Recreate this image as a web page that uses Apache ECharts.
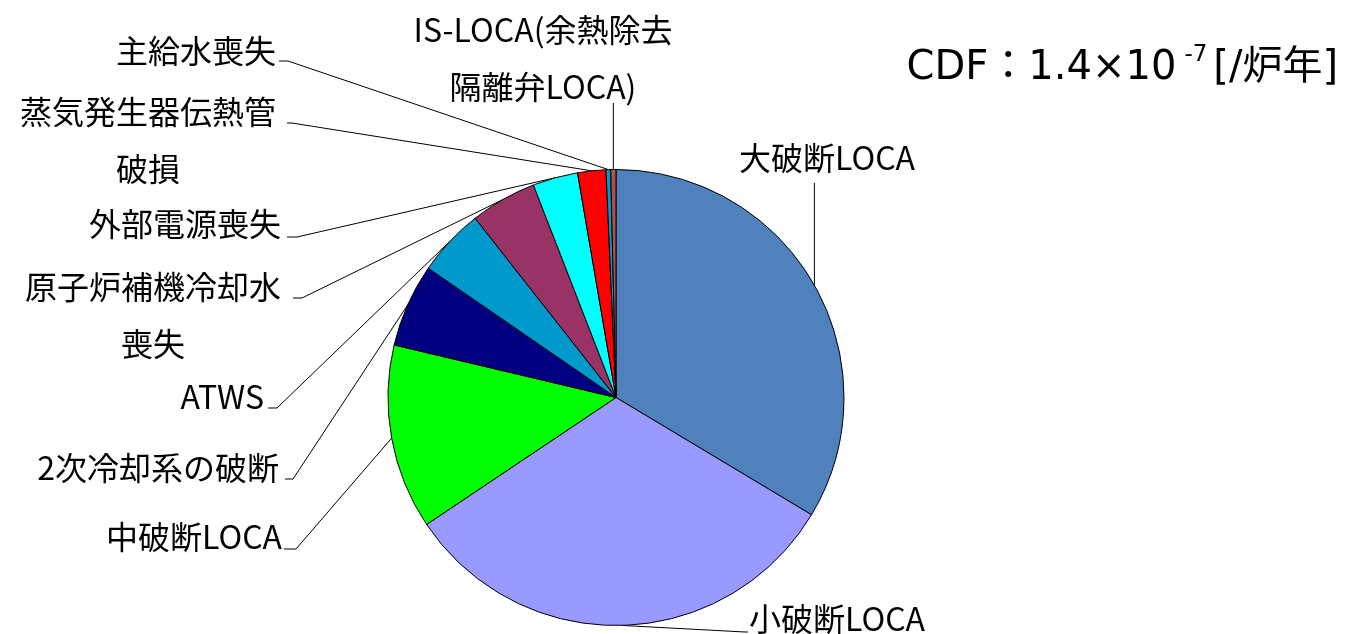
<!DOCTYPE html>
<html>
<head>
<meta charset="utf-8">
<script src="https://cdn.jsdelivr.net/npm/echarts@6/dist/echarts.min.js"></script>
<style>
html,body{margin:0;padding:0;background:#ffffff;}
#chart{width:1351px;height:634px;}
</style>
</head>
<body>
<div id="chart"></div>
<script>
// ---- data ----
const categories = [
  '大破断LOCA',
  '小破断LOCA',
  '中破断LOCA',
  '2次冷却系の破断',
  'ATWS',
  '原子炉補機冷却水\n喪失',
  '外部電源喪失',
  '蒸気発生器伝熱管\n破損',
  '主給水喪失',
  'IS-LOCA(余熱除去\n隔離弁LOCA)'
];
const shares = [33.6, 32.0, 13.1, 5.9, 4.8, 4.7, 3.2, 2.0, 0.33, 0.37];
const sliceColors = ['#4F81BD', '#9999FF', '#00FF00', '#000080', '#0099CC',
                     '#993366', '#00FFFF', '#FF0000', '#0099CC', '#B0504D'];
const cdfLabel = { head: 'CDF：1.4×10', exp: '-7', unit: '[/炉年]' };

// ---- layout (label placement only) ----
const pieCenter = [616, 397.5];
const pieRadius = 228;
// anchor of each label, text alignment, and where the leader line ends
const labelPlace = [
  { x: 827, y: 158, align: 'center', bend: 'vertical', endY: 183 },
  { x: 749, y: 619, align: 'left',   bend: [745, 632], end: [748, 632] },
  { x: 282, y: 537, align: 'right',  bend: [296, 549], end: [284, 549] },
  { x: 279, y: 468, align: 'right',  bend: [293, 479], end: [285, 479] },
  { x: 264, y: 397, align: 'right',  bend: [277, 408], end: [268, 408] },
  { x: 153, y: 315, align: 'center', bend: [302, 298], end: [293, 298] },
  { x: 281, y: 224, align: 'right',  bend: [297, 237], end: [287, 237] },
  { x: 148, y: 140, align: 'center', bend: [292, 123], end: [287, 123] },
  { x: 276, y: 51,  align: 'right',  bend: [288, 61],  end: [279, 61] },
  { x: 543, y: 58,  align: 'center', bend: 'vertical', endY: 103 }
];

const chart = echarts.init(document.getElementById('chart'), null, { renderer: 'canvas' });

const labelFont = "'Noto Sans CJK JP', 'Noto Sans', sans-serif";
const titleFont = "'DejaVu Sans', 'Noto Sans CJK JP', sans-serif";

function edgePoint(idx) {
  const total = shares.reduce((a, b) => a + b, 0);
  let before = 0;
  for (let i = 0; i < idx; i++) before += shares[i];
  const mid = (before + shares[idx] / 2) / total * Math.PI * 2;
  return [pieCenter[0] + pieRadius * Math.sin(mid), pieCenter[1] - pieRadius * Math.cos(mid)];
}

chart.setOption({
  backgroundColor: '#ffffff',
  animation: false,
  title: {
    text: '{a|' + cdfLabel.head + '}{s|' + cdfLabel.exp + '}{a|' + cdfLabel.unit + '}',
    right: 8,
    top: 36,
    textStyle: {
      rich: {
        a: { fontFamily: titleFont, fontSize: 40, fontWeight: 'normal', color: '#000', lineHeight: 48, verticalAlign: 'bottom' },
        s: { fontFamily: titleFont, fontSize: 23, fontWeight: 'normal', color: '#000', lineHeight: 48, verticalAlign: 'top', padding: [3, 6, 0, 8] }
      }
    }
  },
  series: [{
    type: 'pie',
    center: pieCenter,
    radius: pieRadius,
    startAngle: 90,
    clockwise: true,
    avoidLabelOverlap: false,
    minShowLabelAngle: 0,
    data: categories.map((name, i) => ({
      name: name,
      value: shares[i],
      itemStyle: { color: sliceColors[i] }
    })),
    itemStyle: { borderColor: '#000000', borderWidth: 1 },
    label: {
      show: true,
      position: 'outside',
      formatter: '{b}',
      fontFamily: labelFont,
      fontSize: 32,
      lineHeight: 57,
      color: '#000000'
    },
    labelLine: {
      show: true,
      length: 10,
      length2: 10,
      lineStyle: { color: '#000000', width: 1 }
    },
    emphasis: { disabled: true },
    labelLayout: function (params) {
      const p = labelPlace[params.dataIndex];
      const e = (params.labelLinePoints && params.labelLinePoints[0]) || edgePoint(params.dataIndex);
      let pts;
      if (p.bend === 'vertical') {
        pts = [[e[0], e[1]], [e[0], p.endY], [e[0], p.endY]];
      } else {
        pts = [[e[0], e[1]], p.bend, p.end];
      }
      return {
        x: p.x,
        y: p.y,
        align: p.align,
        verticalAlign: 'middle',
        labelLinePoints: pts
      };
    }
  }]
});
</script>
</body>
</html>
